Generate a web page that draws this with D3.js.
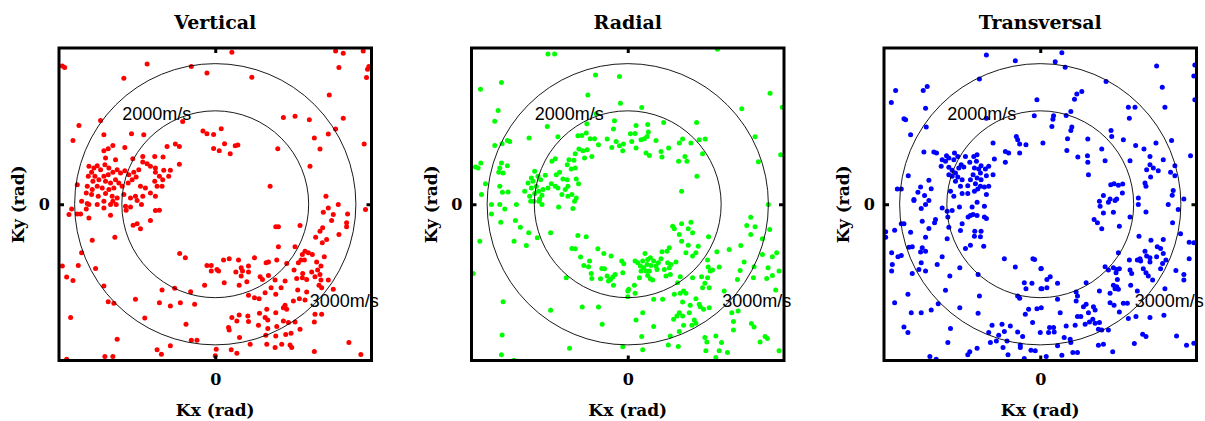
<!DOCTYPE html>
<html>
<head>
<meta charset="utf-8">
<script src="https://cdn.jsdelivr.net/npm/d3@7"></script>
<style>
  html, body { margin: 0; padding: 0; background: #fff; }
  svg { display: block; }
</style>
</head>
<body>
<svg id="chart" width="1205" height="421"></svg>
<script>
// Wavenumber samples (Kx, Ky) in mrad for each component
const kVertical = [
[-460,416],[-453,411],[-205,422],[-72,414],[-25,395],[-275,379],[-345,252],[-410,237],[-428,192],[-335,209],
[-252,212],[-215,209],[-98,249],[-37,220],[-25,212],[-5,210],[-120,181],[-108,174],[-5,168],[-145,174],
[-308,177],[-322,167],[-335,161],[-272,171],[-248,137],[-218,144],[-218,127],[-205,122],[-182,144],[-157,142],
[-108,120],[-330,139],[-300,134],[-415,59],[-380,114],[-365,109],[-372,96],[-355,116],[-345,104],[-332,119],
[-320,109],[-362,84],[-382,84],[-368,69],[-350,74],[-335,84],[-322,89],[-308,96],[-295,104],[-285,94],
[-272,101],[-260,89],[-245,96],[-238,82],[-330,69],[-315,64],[-300,74],[-290,64],[-385,54],[-370,44],
[-355,54],[-340,49],[-320,44],[-305,49],[-280,54],[-262,64],[-250,74],[-388,34],[-372,29],[-352,24],
[-330,32],[-310,24],[-295,19],[-275,29],[-255,19],[-240,24],[-230,104],[-195,114],[-180,109],[-180,96],
[-168,84],[-155,102],[-158,74],[-140,84],[-135,102],[-182,69],[-175,54],[-160,54],[-210,49],[-225,54],
[-218,24],[-195,34],[-180,24],
[-432,-14],[-440,-31],[-415,-29],[-405,-29],[-402,9],[-385,2],[-380,-1],[-388,-14],[-380,-41],[-355,-1],
[-335,9],[-335,-11],[-315,-1],[-308,9],[-298,-1],[-315,-33],[-270,-6],[-268,-18],[-255,-8],[-235,11],
[-222,-1],[-180,-19],[-168,-18],[-195,-49],[-247,-63],[-235,-59],[-225,-74],[-370,-108],[-302,-99],[-402,-146],
[-412,-184],[-360,-193],[-460,-186],[-447,-219],[-428,-229],[-335,-246],[-322,-293],[-305,-298],[-240,-286],[-212,-342],
[-435,-341],[-295,-406],[-332,-458],[-308,-458],[-447,-466],[-175,-438],[-162,-451],[-135,-426],[-88,-361],[-72,-409],
[-55,-409],[0,-456],[-160,-258],[-122,-253],[-74,-263],[-32,-244],[-168,-296],[-135,-306],[-105,-296],[-62,-301],
[-107,-148],[-90,-161],[-25,-184],[-12,-184],[-12,-201],
[50,457],[362,461],[385,454],[445,461],[372,411],[462,414],[458,406],[455,381],[110,382],[343,329],
[205,261],[240,265],[283,254],[385,259],[362,226],[340,211],[298,199],[315,166],[448,181],[18,227],
[28,182],[12,161],[45,152],[60,176],[68,178],[188,167],[285,114],[165,54],[333,24],
[370,-1],[340,-11],[325,-24],[355,-31],[398,-29],[452,-16],[350,-49],[395,-56],[395,-68],[323,-71],
[315,-81],[372,-91],[302,-99],[335,-106],[322,-116],[255,-64],[182,-68],[190,-68],[190,-128],[240,-128],
[270,-141],[280,-146],[262,-151],[292,-151],[258,-168],[268,-168],[305,-174],[328,-158],[318,-186],[308,-198],
[290,-204],[263,-208],[250,-176],[237,-198],[185,-168],[215,-178],[153,-176],[160,-174],[118,-161],[70,-168],
[42,-164],[25,-168],[5,-196],[10,-201],[62,-204],[78,-191],[82,-201],[100,-186],[100,-204],[78,-216],
[95,-233],[27,-236],[72,-244],[135,-218],[142,-226],[160,-214],[180,-228],[210,-231],[245,-223],[262,-221],
[275,-226],[300,-218],[315,-211],[318,-228],[340,-228],[312,-244],[320,-251],[355,-256],[248,-258],[275,-264],
[168,-251],[198,-251],[182,-271],[150,-266],[100,-274],[118,-281],[132,-284],[210,-304],[205,-311],[215,-316],
[235,-291],[253,-284],[270,-288],[300,-331],[320,-331],[133,-328],[155,-316],[182,-326],[150,-341],[158,-348],
[72,-333],[50,-341],[65,-351],[98,-336],[100,-353],[40,-371],[42,-378],[130,-364],[158,-374],[185,-368],
[205,-351],[220,-356],[240,-354],[255,-376],[298,-354],[152,-394],[182,-396],[212,-392],[228,-388],[73,-401],
[105,-421],[155,-421],[180,-431],[200,-421],[225,-423],[230,-431],[48,-438],[65,-448],[3,-436],[298,-443],
[402,-416],[438,-452]
];

const kRadial = [
[-240,452],[-220,452],[-380,366],[-443,346],[-97,389],[-25,384],[-120,329],[-22,304],[-390,282],[-400,250],
[-242,234],[-297,199],[-210,203],[-400,177],[-378,182],[-362,192],[-355,189],[-95,272],[-40,251],[-43,226],
[-123,242],[-150,206],[-138,207],[-125,214],[-113,197],[-100,197],[-88,179],[-62,196],[-48,171],[-35,189],
[-25,176],[-13,181],[-15,161],[-147,166],[-135,161],[-122,164],[-158,152],[-130,139],[-108,144],[-177,134],
[-162,132],[-182,119],[-170,106],[-158,109],[-218,137],[-228,129],[-205,96],[-215,89],[-195,76],[-182,74],
[-180,54],[-155,76],[-148,62],[-248,87],[-240,49],[-230,62],[-218,54],[-210,49],[-198,29],[-188,44],
[-180,24],[-168,29],[-155,19],[-280,99],[-270,84],[-262,74],[-290,79],[-285,69],[-300,64],[-275,54],
[-290,49],[-268,39],[-280,32],[-258,27],[-295,24],[-265,16],[-310,39],[-255,44],[-380,124],[-385,109],
[-362,116],[-375,94],[-388,96],[-458,112],[-442,124],[-450,109],[-428,62],[-385,54],[-360,37],[-377,36],
[-440,29],
[270,466],[428,334],[465,292],[343,287],[42,291],[207,246],[108,246],[25,237],[60,240],[8,212],
[22,213],[62,217],[58,204],[50,197],[40,194],[12,189],[25,169],[85,192],[165,196],[155,184],
[190,184],[215,194],[233,196],[383,203],[100,159],[123,169],[55,154],[65,147],[103,142],[172,144],
[153,129],[178,129],[225,152],[460,149],[393,128],[208,84],[162,39],
[-410,-1],[-385,-1],[-370,-14],[-335,-1],[-292,9],[-282,9],[-267,9],[-258,-1],[-208,-8],[-160,9],
[-165,-13],[-410,-29],[-382,-54],[-338,-49],[-323,-69],[-298,-86],[-232,-86],[-272,-101],[-445,-111],[-342,-111],
[-305,-124],[-150,-94],[-125,-98],[-168,-133],[-158,-134],[-142,-159],[-90,-134],[-72,-148],[-50,-156],[-115,-171],
[-132,-184],[-118,-188],[-78,-193],[-70,-194],[-18,-171],[-12,-179],[-110,-208],[-108,-223],[-82,-224],[-62,-216],
[-52,-226],[-58,-231],[-38,-211],[-45,-219],[-15,-206],[-43,-244],[-185,-221],[0,-261],[0,-278],[-465,-208],
[-375,-293],[-232,-319],[-137,-309],[-88,-309],[-77,-361],[-378,-393],[-380,-453],[-175,-433],[-15,-429],[-342,-469],
[423,-1],[370,-39],[358,-64],[383,-68],[370,-91],[427,-76],[405,-104],[135,-66],[140,-74],[162,-59],
[190,-54],[182,-74],[195,-86],[155,-91],[243,-98],[162,-111],[182,-123],[212,-126],[205,-146],[195,-156],
[175,-146],[268,-143],[240,-168],[275,-189],[242,-189],[248,-201],[255,-198],[222,-218],[240,-221],[232,-238],
[245,-251],[225,-251],[125,-131],[118,-141],[103,-143],[145,-174],[130,-181],[120,-176],[125,-191],[110,-196],
[115,-216],[128,-211],[100,-164],[92,-176],[85,-186],[78,-171],[68,-161],[52,-148],[60,-166],[45,-171],
[30,-176],[22,-171],[38,-186],[48,-191],[58,-181],[70,-184],[40,-201],[55,-201],[65,-201],[88,-196],
[60,-214],[35,-221],[68,-224],[75,-228],[20,-244],[3,-256],[22,-268],[158,-218],[150,-236],[195,-221],
[168,-261],[175,-268],[158,-268],[140,-271],[105,-286],[78,-286],[205,-284],[188,-304],[165,-294],[215,-301],
[218,-308],[228,-316],[155,-326],[148,-336],[165,-336],[138,-346],[185,-326],[200,-348],[193,-364],[205,-358],
[168,-364],[245,-311],[290,-261],[330,-226],[338,-199],[350,-174],[340,-124],[305,-136],[380,-188],[378,-221],
[405,-151],[435,-158],[448,-146],[422,-191],[455,-201],[435,-214],[418,-223],[445,-258],[313,-326],[318,-353],
[332,-321],[372,-359],[380,-369],[318,-378],[265,-396],[282,-416],[232,-401],[238,-414],[155,-383],[128,-396],
[78,-368],[45,-326],[25,-348],[42,-398],[45,-438],[122,-423],[152,-428],[235,-441],[275,-441],[265,-461],
[300,-446],[398,-414],[413,-398],[420,-404],[455,-441]
];

const kTransversal = [
[-162,449],[-75,432],[-183,377],[-435,342],[-352,342],[-340,354],[-448,306],[-345,289],[-410,257],[-405,254],
[-343,232],[-390,209],[-10,314],[-18,266],[-162,259],[-72,204],[-68,194],[-62,181],[-43,179],[-142,184],
[-105,159],[-95,154],[-62,154],[-138,136],[-105,126],[-350,157],[-320,157],[-312,154],[-397,86],[-430,46],
[-418,46],[-380,14],[-368,36],[-360,52],[-335,72],[-328,47],[-348,26],[-298,114],[-295,134],[-285,129],
[-282,146],[-275,139],[-275,111],[-265,102],[-260,134],[-258,154],[-248,144],[-238,119],[-245,109],[-230,112],
[-225,144],[-212,126],[-200,144],[-190,149],[-192,129],[-198,109],[-185,106],[-178,116],[-165,106],[-155,114],
[-142,89],[-162,86],[-180,94],[-202,89],[-190,79],[-178,74],[-195,62],[-180,54],[-168,52],[-155,54],
[-188,46],[-198,39],[-162,29],[-275,89],[-265,84],[-255,94],[-248,82],[-235,74],[-255,69],[-240,54],
[-218,56],[-210,74],[-270,39],[-260,24],[-235,32],[-218,32],
[65,456],[45,429],[75,412],[350,416],[465,419],[462,386],[198,369],[367,352],[110,332],[125,339],
[103,316],[465,314],[375,292],[265,292],[285,292],[268,259],[92,279],[78,267],[40,266],[38,256],
[35,234],[95,232],[92,222],[8,184],[82,197],[80,162],[113,142],[143,196],[142,146],[143,126],
[145,89],[213,222],[215,204],[250,194],[185,166],[195,131],[287,177],[312,166],[270,131],[348,184],
[395,192],[330,144],[370,134],[330,119],[340,109],[320,104],[355,101],[332,82],[392,96],[405,116],
[405,86],[452,146],[212,59],[222,62],[235,57],[248,61],[247,34],[315,64],[318,54],[190,26],
[210,16],[230,16],[295,19],[400,41],[397,27],[432,16],
[-380,11],[-345,-1],[-335,11],[-358,-13],[-295,-11],[-280,-21],[-265,-19],[-243,-8],[-278,-38],[-205,-8],
[-190,6],[-168,-6],[-210,-34],[-202,-31],[-190,-34],[-217,-38],[-168,-38],[-162,-43],[-315,-46],[-318,-56],
[-355,-51],[-418,-59],[-410,-59],[-235,-59],[-275,-69],[-335,-73],[-438,-78],[-465,-83],[-465,-99],[-390,-84],
[-240,-79],[-197,-81],[-178,-81],[-198,-96],[-180,-98],[-280,-104],[-345,-99],[-210,-123],[-225,-133],[-170,-126],
[-395,-129],[-385,-128],[-355,-131],[-360,-144],[-345,-141],[-447,-146],[-428,-158],[-418,-154],[-295,-158],[-358,-176],
[-445,-181],[-310,-181],[-447,-201],[-365,-196],[-345,-201],[-385,-208],[-242,-191],[-272,-216],[-187,-211],[-108,-164],
[-75,-189],[-22,-164],[-17,-166],[2,-194],[-48,-236],[-25,-238],[-43,-254],[2,-254],[-285,-259],[-398,-271],
[-183,-276],[-68,-276],[-62,-283],[-438,-296],[-307,-299],[-242,-311],[-388,-326],[-358,-326],[-328,-318],[-187,-328],
[-45,-331],[-35,-316],[-10,-314],[-23,-356],[-410,-369],[-398,-386],[-270,-374],[-145,-364],[-115,-361],[-90,-366],
[-155,-386],[-125,-394],[-108,-383],[-68,-384],[-53,-398],[0,-386],[-150,-416],[-132,-411],[-100,-411],[-60,-423],
[-60,-431],[-112,-431],[-97,-453],[-278,-416],[-190,-433],[-212,-444],[-218,-453],[-332,-458],[-313,-466],[-28,-439],
[-15,-441],[-48,-464],
[178,9],[205,6],[225,11],[180,-6],[190,-26],[220,-24],[295,-1],[318,-23],[385,-1],[415,-16],
[270,-38],[162,-46],[172,-56],[185,-74],[238,-66],[398,-56],[422,-89],[297,-96],[333,-108],[370,-106],
[448,-114],[462,-116],[352,-128],[362,-133],[315,-141],[320,-156],[330,-161],[350,-158],[370,-148],[378,-168],
[368,-178],[448,-164],[235,-146],[268,-168],[292,-168],[302,-171],[300,-164],[330,-174],[362,-194],[408,-199],
[432,-211],[432,-228],[310,-194],[318,-206],[325,-216],[338,-228],[270,-198],[275,-208],[195,-188],[205,-198],
[220,-191],[230,-196],[238,-194],[228,-206],[232,-226],[220,-244],[230,-248],[235,-256],[225,-254],[272,-244],
[292,-261],[3,-193],[20,-226],[30,-218],[52,-238],[5,-254],[20,-251],[108,-264],[112,-276],[138,-236],
[178,-261],[210,-268],[210,-296],[108,-291],[52,-286],[138,-301],[160,-308],[165,-318],[130,-308],[145,-326],
[122,-338],[112,-338],[135,-361],[148,-354],[158,-346],[165,-358],[178,-356],[175,-376],[222,-304],[238,-324],
[250,-298],[262,-298],[265,-344],[288,-338],[330,-341],[372,-334],[375,-254],[3,-311],[60,-326],[28,-371],
[40,-371],[42,-384],[25,-386],[78,-366],[105,-364],[72,-401],[90,-406],[92,-416],[52,-426],[205,-378],
[185,-378],[308,-391],[318,-398],[283,-419],[175,-424],[190,-421],[218,-444],[98,-446],[112,-446],[65,-454],
[18,-458],[410,-396],[440,-424],[462,-418]
];

const panelTitles = ["Vertical", "Radial", "Transversal"];
const panelColors = ["#ff0000", "#00ff00", "#0000ff"];
const panelData = [kVertical, kRadial, kTransversal];

// Constant-velocity rings: phase speed and the matching wavenumber radius (mrad)
const ringSpeeds = [2000, 3000];
const ringRadii = [423, 281];
const ringLabels = ["2000m/s", "3000m/s"];

const kDomain = [-470, 470];
const xTickValues = [0];
const yTickValues = [0];
const xLabel = "Kx (rad)";
const yLabel = "Ky (rad)";

// Layout
const panelLefts = [59, 471.5, 884];
const panelTop = 48;
const panelSize = 312.5;
// Label anchor points in wavenumber units (left/baseline of the text)
const ringLabelAnchors = [[-280, 254], [284, -309]];

const svg = d3.select("#chart");
svg.append("rect").attr("width", 1205).attr("height", 421).attr("fill", "#fff");

const serif = "'DejaVu Serif', serif";
const sans = "'Liberation Sans', Arial, sans-serif";

panelData.forEach((pts, i) => {
  const left = panelLefts[i];
  const x = d3.scaleLinear().domain(kDomain).range([left, left + panelSize]);
  const y = d3.scaleLinear().domain(kDomain).range([panelTop + panelSize, panelTop]);
  const g = svg.append("g");

  const clipId = "clip" + i;
  svg.append("clipPath").attr("id", clipId)
    .append("rect")
    .attr("x", left).attr("y", panelTop)
    .attr("width", panelSize).attr("height", panelSize);

  // scatter
  g.append("g").attr("clip-path", `url(#${clipId})`)
    .selectAll("circle")
    .data(pts)
    .join("circle")
    .attr("cx", d => x(d[0]))
    .attr("cy", d => y(d[1]))
    .attr("r", 2.5)
    .attr("fill", panelColors[i]);

  // velocity rings
  g.append("g").attr("clip-path", `url(#${clipId})`)
    .selectAll("circle")
    .data(ringRadii)
    .join("circle")
    .attr("cx", x(0))
    .attr("cy", y(0))
    .attr("r", d => x(d) - x(0))
    .attr("fill", "none")
    .attr("stroke", "#000")
    .attr("stroke-width", 0.9);

  // frame
  g.append("rect")
    .attr("x", left).attr("y", panelTop)
    .attr("width", panelSize).attr("height", panelSize)
    .attr("fill", "none")
    .attr("stroke", "#000")
    .attr("stroke-width", 3);

  // axes with inward ticks
  const styleAxis = sel => {
    sel.select(".domain").remove();
    sel.selectAll(".tick line").attr("stroke", "#000").attr("stroke-width", 3);
    sel.selectAll(".tick text")
      .attr("fill", "#000")
      .style("font-family", serif)
      .style("font-weight", "bold")
      .style("font-size", "16px");
  };
  g.append("g").attr("transform", `translate(0,${panelTop + panelSize})`)
    .call(d3.axisBottom(x).tickValues(xTickValues).tickSize(-5).tickPadding(13).tickFormat(d3.format("d")))
    .call(styleAxis);
  g.append("g").attr("transform", `translate(0,${panelTop})`)
    .call(d3.axisTop(x).tickValues(xTickValues).tickSize(-5).tickFormat(""))
    .call(styleAxis);
  g.append("g").attr("transform", `translate(${left},0)`)
    .call(d3.axisLeft(y).tickValues(yTickValues).tickSize(-5).tickPadding(9).tickFormat(d3.format("d")))
    .call(styleAxis);
  g.append("g").attr("transform", `translate(${left + panelSize},0)`)
    .call(d3.axisRight(y).tickValues(yTickValues).tickSize(-5).tickFormat(""))
    .call(styleAxis);

  // ring labels
  g.selectAll("text.ring")
    .data(ringLabels)
    .join("text")
    .attr("class", "ring")
    .attr("x", (d, j) => x(ringLabelAnchors[j][0]))
    .attr("y", (d, j) => y(ringLabelAnchors[j][1]))
    .attr("fill", "#000")
    .style("font-family", sans)
    .style("font-size", "18px")
    .text(d => d);

  // title
  g.append("text")
    .attr("x", x(0))
    .attr("y", 29)
    .attr("text-anchor", "middle")
    .style("font-family", serif)
    .style("font-weight", "bold")
    .style("font-size", "19px")
    .text(panelTitles[i]);

  // axis titles
  g.append("text")
    .attr("x", x(0))
    .attr("y", 416)
    .attr("text-anchor", "middle")
    .style("font-family", serif)
    .style("font-weight", "bold")
    .style("font-size", "17px")
    .text(xLabel);

  g.append("text")
    .attr("transform", `translate(${left - 35},${y(0)}) rotate(-90)`)
    .attr("text-anchor", "middle")
    .style("font-family", serif)
    .style("font-weight", "bold")
    .style("font-size", "17px")
    .text(yLabel);
});
</script>
</body>
</html>
